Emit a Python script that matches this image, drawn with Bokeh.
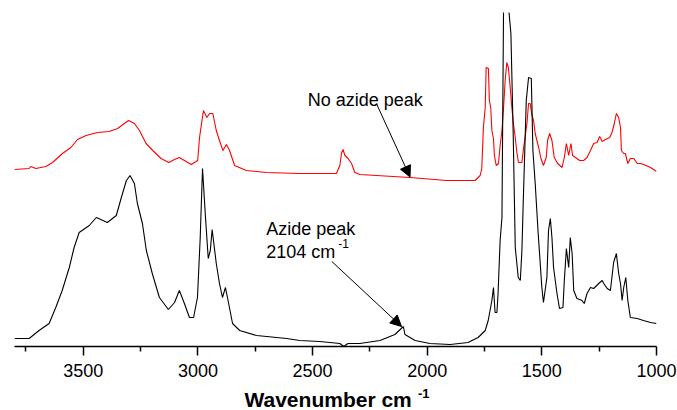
from bokeh.plotting import figure
from bokeh.layouts import column
from bokeh.models import Range1d, FixedTicker, Label, Arrow, NormalHead
from bokeh.embed import file_html
from bokeh.resources import INLINE

# Spectrum with azide (black), wavenumber (cm-1) and relative absorbance
black_wn = [3800, 3736, 3693, 3649, 3620, 3592, 3561, 3540, 3518, 3474, 3443, 3395, 3356, 3334,
            3312, 3296, 3277, 3264, 3242, 3225, 3199, 3168, 3129, 3102, 3081, 3059, 3037, 3019,
            3002, 2990, 2980, 2967, 2955, 2946, 2938, 2920, 2906, 2893, 2880, 2866, 2849, 2818,
            2744, 2613, 2556, 2469, 2381, 2364, 2346, 2294, 2206, 2141, 2104, 2097, 2053, 1988,
            1900, 1822, 1778, 1747, 1734, 1718, 1711, 1704, 1696, 1691, 1682, 1674, 1667, 1658,
            1652, 1646, 1635, 1625, 1616, 1603, 1594, 1587, 1581, 1568, 1558, 1546, 1539, 1529,
            1516, 1500, 1493, 1478, 1471, 1463, 1456, 1449, 1434, 1423, 1408, 1402, 1393, 1383,
            1376, 1368, 1361, 1347, 1325, 1315, 1303, 1288, 1274, 1252, 1237, 1230, 1215, 1201,
            1187, 1175, 1165, 1157, 1150, 1143, 1134, 1125, 1114, 1084, 1057, 1026, 1000]
black_abs = [12, 12, 20, 27, 43, 60, 83, 103, 118, 125, 133, 128, 135, 153,
             170, 175, 167, 147, 127, 100, 77, 53, 41, 48, 60, 47, 33, 33,
             53, 113, 182, 133, 92, 100, 121, 87, 67, 53, 63, 47, 27, 20,
             15, 12, 10, 9, 7, 4, 7, 7, 10, 16, 24, 16, 10, 7,
             6, 8, 13, 20, 30, 50, 63, 38, 38, 57, 110, 133, 345, 420,
             420, 345, 317, 217, 103, 73, 70, 100, 150, 250, 273, 272, 200, 167,
             117, 63, 48, 73, 120, 132, 113, 83, 57, 42, 43, 70, 102, 83,
             113, 97, 60, 52, 50, 47, 57, 63, 62, 67, 70, 67, 62, 60,
             88, 97, 77, 67, 50, 63, 73, 50, 33, 32, 30, 28, 27]

# Spectrum without azide (red)
red_wn = [3800, 3736, 3729, 3707, 3663, 3634, 3591, 3554, 3525, 3488, 3438, 3387, 3350, 3321,
          3302, 3277, 3255, 3226, 3197, 3161, 3127, 3102, 3081, 3029, 3001, 2993, 2976, 2961,
          2949, 2935, 2920, 2906, 2891, 2876, 2862, 2840, 2789, 2702, 2556, 2396, 2381, 2374,
          2367, 2359, 2345, 2330, 2316, 2294, 2075, 1915, 1791, 1769, 1762, 1755, 1747, 1743,
          1733, 1729, 1723, 1718, 1711, 1707, 1699, 1689, 1682, 1674, 1667, 1660, 1653, 1646,
          1638, 1631, 1624, 1616, 1609, 1602, 1587, 1580, 1565, 1558, 1551, 1543, 1536, 1529,
          1514, 1504, 1493, 1481, 1475, 1466, 1456, 1446, 1431, 1412, 1402, 1393, 1383, 1373,
          1366, 1354, 1335, 1318, 1303, 1288, 1274, 1259, 1248, 1237, 1223, 1204, 1194, 1184,
          1175, 1165, 1157, 1153, 1143, 1136, 1125, 1114, 1099, 1084, 1070, 1056, 1026, 1000]
red_abs = [181, 182, 184, 182, 184, 188, 197, 203, 211, 215, 218, 219, 222, 227,
           230, 227, 220, 207, 200, 192, 188, 191, 193, 186, 190, 213, 240, 233,
           237, 237, 220, 210, 200, 206, 200, 185, 180, 178, 177, 177, 185, 197,
           201, 195, 192, 187, 178, 176, 173, 170, 170, 175, 182, 223, 243, 283,
           282, 250, 243, 220, 212, 195, 185, 187, 205, 220, 243, 270, 288, 283,
           263, 243, 227, 213, 198, 188, 188, 202, 227, 247, 247, 235, 230, 217,
           203, 192, 185, 193, 210, 217, 210, 193, 187, 183, 193, 207, 195, 207,
           195, 193, 190, 190, 193, 200, 207, 208, 214, 209, 211, 213, 218, 227,
           237, 233, 223, 200, 197, 197, 187, 192, 192, 187, 187, 186, 183, 179]

major_ticks = [3500, 3000, 2500, 2000, 1500, 1000]
minor_ticks = [3750, 3250, 2750, 2250, 1750, 1250]

FONT = "Liberation Sans"
xr = Range1d(3800, 1000)

p = figure(width=677, height=386, x_range=xr, y_range=Range1d(4, 338), title=None,
           output_backend="svg", toolbar_location=None, y_axis_location=None,
           min_border_left=14, min_border_right=21, min_border_top=12, min_border_bottom=40)
p.background_fill_color = "white"
p.border_fill_color = "white"
p.outline_line_color = None
p.xgrid.visible = False
p.ygrid.visible = False

p.line(red_wn, red_abs, line_color="#ff0000", line_width=1.1)
p.line(black_wn, black_abs, line_color="black", line_width=1.1)

ax = p.xaxis[0]
ax.ticker = FixedTicker(ticks=major_ticks, minor_ticks=minor_ticks)
ax.axis_line_width = 1.5
ax.axis_line_color = "black"
ax.major_tick_line_color = "black"
ax.minor_tick_line_color = "black"
ax.major_tick_line_width = 1.5
ax.minor_tick_line_width = 1.5
ax.major_tick_in = 0
ax.major_tick_out = 9
ax.minor_tick_in = 0
ax.minor_tick_out = 5
ax.major_label_text_font = FONT
ax.major_label_text_font_size = "18px"
ax.major_label_text_color = "black"
ax.major_label_standoff = 8


def lab(fig, x, y, text, size, bold=False, baseline="alphabetic"):
    fig.add_layout(Label(x=x, y=y, text=text, text_font=FONT, text_font_size=size,
                         text_font_style="bold" if bold else "normal", text_color="black",
                         text_align="left", text_baseline=baseline))


lab(p, 2521, 250.5, "No azide peak", "18px")
lab(p, 2702, 121.7, "Azide peak", "18px")
lab(p, 2702, 98.3, "2104 cm", "18px")
lab(p, 2388, 107, "-1", "12px")

p.add_layout(Arrow(end=NormalHead(size=11, fill_color="black", line_color="black", line_width=1),
                   x_start=2221, y_start=246.7, x_end=2075, y_end=173.5,
                   line_color="black", line_width=1))
p.add_layout(Arrow(end=NormalHead(size=11, fill_color="black", line_color="black", line_width=1),
                   x_start=2416, y_start=89, x_end=2112, y_end=24,
                   line_color="black", line_width=1))

# strip below the axis that carries the axis title with its superscript
p2 = figure(width=677, height=24, x_range=xr, y_range=Range1d(0, 24), title=None,
            output_backend="svg", toolbar_location=None,
            x_axis_location=None, y_axis_location=None,
            min_border_left=14, min_border_right=21, min_border_top=0, min_border_bottom=0)
p2.background_fill_color = "white"
p2.border_fill_color = "white"
p2.outline_line_color = None
p2.xgrid.visible = False
p2.ygrid.visible = False
lab(p2, 2797, 23, "Wavenumber cm", "21px", bold=True, baseline="top")
lab(p2, 2040, 22, "-1", "13px", bold=True, baseline="top")

layout = column(p, p2, spacing=0)
open("out.html", "w").write(file_html(layout, INLINE))
